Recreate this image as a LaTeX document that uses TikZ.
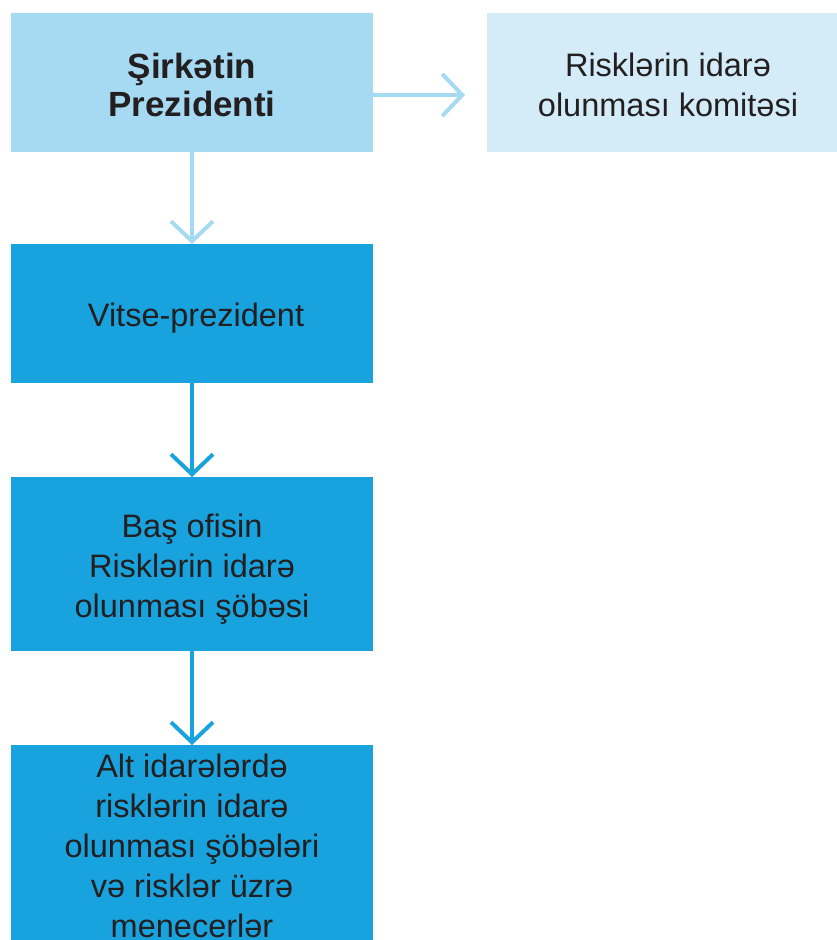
\documentclass[tikz,border=0pt]{standalone}
\usepackage{fontspec}
\setmainfont{Liberation Sans}
\usetikzlibrary{arrows.meta}
\definecolor{lightblue}{HTML}{A6DAF3}
\definecolor{paleblue}{HTML}{D3ECF7}
\definecolor{darkblue}{HTML}{19A3DE}
\definecolor{txt}{HTML}{231F20}
\tikzset{
  box/.style={rectangle, inner sep=0pt, outer sep=0pt, minimum width=362pt},
  lbl/.style={inner sep=0pt, align=center, text=txt, font=\fontsize{32.5}{40}\selectfont},
  arr/.style={line width=4pt, -{Straight Barb[length=20pt,width=42pt,line width=4pt]}},
}
\begin{document}
\begin{tikzpicture}[x=1pt,y=-1pt]
\useasboundingbox (0,0) rectangle (837,940);
\node[box, fill=lightblue, minimum height=139pt] (pres) at (192,82.5) {};
\node[box, fill=paleblue, minimum width=350pt, minimum height=139pt] (comm) at (662,82.5) {};
\node[box, fill=darkblue, minimum height=139pt] (vp) at (192,313.5) {};
\node[box, fill=darkblue, minimum height=174pt] (ho) at (192,564) {};
\node[box, fill=darkblue, minimum height=195pt] (alt) at (192,842.5) {};
\node[lbl, font=\fontsize{35}{38}\selectfont\bfseries] (prestext) at (192,85) {Şirkətin\\Prezidenti};
\node[lbl] (commtext) at (668,85) {Risklərin idarə\\olunması komitəsi};
\node[lbl] (vptext) at (196,318) {Vitse-prezident};
\node[lbl] (hotext) at (192,569) {Baş ofisin\\Risklərin idarə\\olunması şöbəsi};
\node[lbl] (alttext) at (192,846) {Alt idarələrdə\\risklərin idarə\\olunması şöbələri\\və risklər üzrə\\menecerlər};
\coordinate (hstart) at (373,95);
\coordinate (hend) at (465,95);
\draw[arr, lightblue] (hstart) -- (hend);
\draw[arr, lightblue] (pres.south) -- (vp.north);
\draw[arr, darkblue] (vp.south) -- (ho.north);
\draw[arr, darkblue] (ho.south) -- (alt.north);
\end{tikzpicture}
\end{document}
